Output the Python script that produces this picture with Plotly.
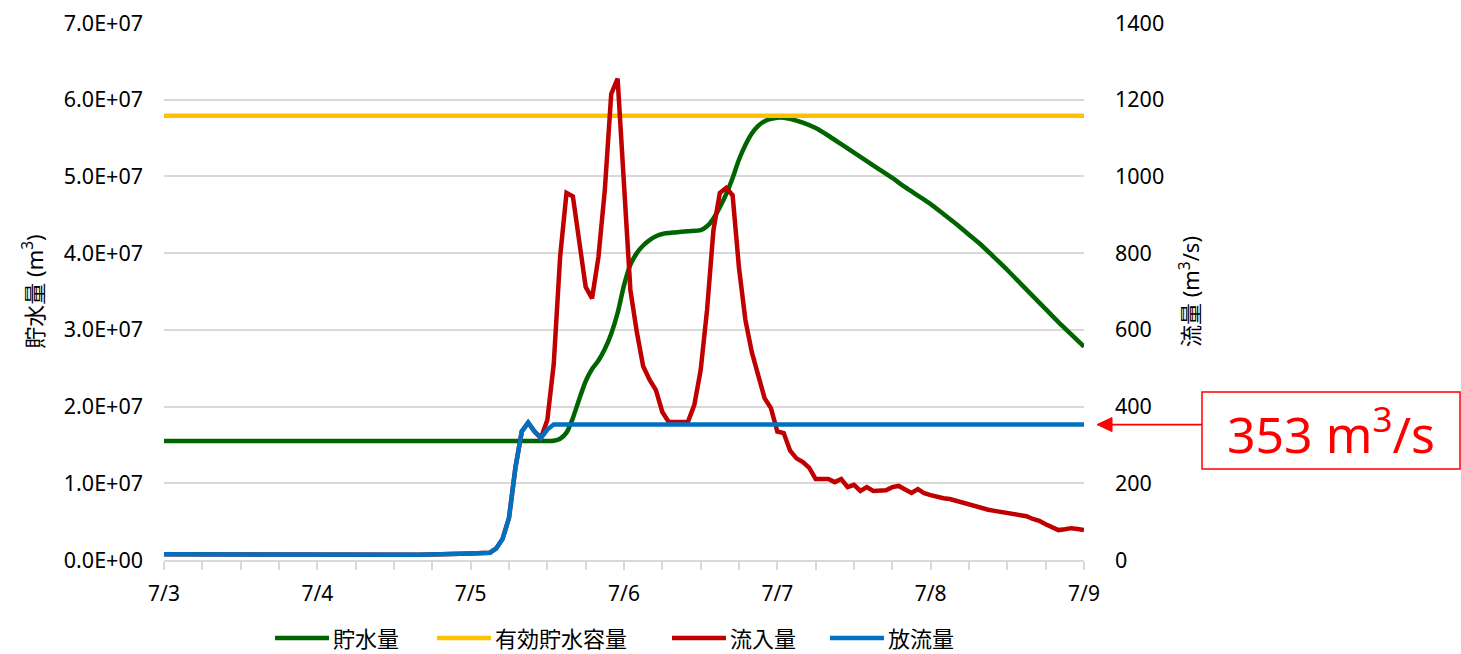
import pandas as pd
import plotly.graph_objects as go

# ---- data (hours counted from 2018-07-03 00:00) ----
start = pd.Timestamp("2018-07-03 00:00")

storage_hours = [0, 60, 61, 62, 63, 64, 65, 66, 67, 68, 69, 70, 71, 72, 73, 74, 75, 76, 77, 78,
                 80, 82, 84, 85, 86, 87, 88, 89, 90, 91, 92, 93, 94, 95, 96, 97, 98,
                 100, 102, 104, 106, 108, 110, 112, 114, 116, 118, 120, 122, 124, 126, 128,
                 130, 132, 134, 136, 138, 140, 142, 144]
storage = [15.5e6, 15.5e6, 15.55e6, 15.8e6, 16.6e6, 18.5e6, 21.0e6, 23.3e6, 24.9e6, 26.0e6,
           27.5e6, 29.5e6, 32.2e6, 35.8e6, 38.5e6, 40.0e6, 41.0e6, 41.7e6, 42.2e6, 42.5e6,
           42.7e6, 42.85e6, 43.0e6, 43.5e6, 44.5e6, 46.0e6, 47.7e6, 49.8e6, 52.2e6, 54.1e6,
           55.6e6, 56.6e6, 57.2e6, 57.5e6, 57.65e6, 57.65e6, 57.5e6,
           57.0e6, 56.3e6, 55.3e6, 54.2e6, 53.1e6, 52.0e6, 50.9e6, 49.8e6, 48.6e6, 47.5e6,
           46.4e6, 45.1e6, 43.8e6, 42.4e6, 41.0e6, 39.4e6, 37.8e6, 36.1e6, 34.4e6, 32.7e6,
           31.0e6, 29.4e6, 27.8e6]

capacity_hours = [0, 144]
capacity = [57.9e6, 57.9e6]

inflow_hours = [0, 9, 12, 36, 40, 48, 50, 51, 52, 53, 54, 55, 56, 57, 58] + list(range(59, 145))
inflow = [15, 15, 13, 13, 14, 17, 18, 19, 30, 55, 110, 240, 335, 358, 335,
          318, 365, 510, 790, 957, 948, 835, 712, 682, 790,
          965, 1215, 1255, 964, 704, 595, 505, 470, 443, 386,
          360, 360, 360, 360, 404, 495, 652, 860, 957, 970,
          951, 761, 626, 542, 482, 422, 396, 335, 331, 285,
          265, 255, 240, 211, 211, 211, 203, 211, 190, 196,
          180, 190, 180, 181, 182, 190, 193, 184, 175, 185,
          174, 169, 164, 161, 159, 154, 149, 145, 141, 136,
          131, 128, 125, 123, 118, 115, 114, 107, 102, 93,
          84, 78, 80, 83, 81, 78]

outflow_hours = [0, 9, 12, 36, 40, 48, 50, 51, 52, 53, 54, 55, 56, 57, 58, 59, 60, 61, 144]
outflow = [15, 15, 13, 13, 14, 17, 18, 19, 30, 55, 110, 240, 335, 358, 335, 318, 340, 353, 353]

release_label = 353

day_ticks = ["2018-07-03", "2018-07-04", "2018-07-05", "2018-07-06",
             "2018-07-07", "2018-07-08", "2018-07-09"]
day_labels = ["7/3", "7/4", "7/5", "7/6", "7/7", "7/8", "7/9"]
vol_ticks = [0, 1e7, 2e7, 3e7, 4e7, 5e7, 6e7, 7e7]
vol_labels = ["0.0E+00", "1.0E+07", "2.0E+07", "3.0E+07", "4.0E+07",
              "5.0E+07", "6.0E+07", "7.0E+07"]
flow_ticks = [0, 200, 400, 600, 800, 1000, 1200, 1400]

series_names = ["貯水量", "有効貯水容量", "流入量", "放流量"]
series_colors = ["#006400", "#FFC000", "#C00000", "#0070C0"]


def to_time(hours):
    return [start + pd.Timedelta(hours=h) for h in hours]


FONT = "Noto Sans, Noto Sans CJK JP, sans-serif"
GRID = "#d9d9d9"
W, H = 1461, 654
L, R, T, B = 164, 377, 23, 94
PW, PH = W - L - R, H - T - B
FLOW_PER_PX = 1400 / PH


def px_x(px):
    return (px - L) / PW


def px_y(py):
    return (H - B - py) / PH


fig = go.Figure()
fig.add_trace(go.Scatter(x=to_time(storage_hours), y=storage, name=series_names[0],
                         mode="lines", yaxis="y",
                         line=dict(color=series_colors[0], width=4.5, shape="spline", smoothing=0.6)))
fig.add_trace(go.Scatter(x=to_time(capacity_hours), y=capacity, name=series_names[1],
                         mode="lines", yaxis="y", line=dict(color=series_colors[1], width=4.5)))
fig.add_trace(go.Scatter(x=to_time(inflow_hours), y=inflow, name=series_names[2],
                         mode="lines", yaxis="y2", line=dict(color=series_colors[2], width=4.5)))
fig.add_trace(go.Scatter(x=to_time(outflow_hours), y=outflow, name=series_names[3],
                         mode="lines", yaxis="y2", line=dict(color=series_colors[3], width=4.5)))

fig.update_layout(
    width=W, height=H,
    margin=dict(l=L, r=R, t=T, b=B),
    paper_bgcolor="white", plot_bgcolor="white",
    font=dict(family=FONT, size=21, color="#000000"),
    showlegend=False,
    xaxis=dict(type="date", range=["2018-07-03", "2018-07-09"],
               tickvals=day_ticks, ticktext=day_labels, automargin=False,
               showgrid=False, zeroline=False,
               showline=True, linecolor=GRID, linewidth=2,
               ticks="outside", ticklen=8, tickcolor=GRID, tickwidth=2,
               minor=dict(dtick=6 * 3600 * 1000, ticks="outside", ticklen=8,
                          tickcolor=GRID, tickwidth=2, showgrid=False),
               tickfont=dict(size=21), ticklabelstandoff=6),
    yaxis=dict(range=[0, 7e7], tickvals=vol_ticks, ticktext=vol_labels, automargin=False,
               showgrid=True, gridcolor=GRID, gridwidth=2, zeroline=False,
               showline=False, ticks="", tickfont=dict(size=21.5), ticklabelstandoff=20,
               title=dict(text="貯水量 (m<sup>3</sup>)", font=dict(size=22), standoff=14)),
    yaxis2=dict(range=[0, 1400], tickvals=flow_ticks, overlaying="y", side="right",
                automargin=False, showgrid=False, zeroline=False, showline=False, ticks="",
                tickfont=dict(size=21.5), ticklabelstandoff=30,
                title=dict(text="流量 (m<sup>3</sup>/s)", font=dict(size=22), standoff=20)),
)

# legend row drawn beneath the plot: line sample followed by the series name
legend_y = px_y(638)
legend_line_starts = [275, 437, 672, 830]
legend_text_widths = [72, 140, 72, 72]
for name, color, x0, tw in zip(series_names, series_colors, legend_line_starts, legend_text_widths):
    fig.add_shape(type="line", xref="paper", yref="paper",
                  x0=px_x(x0), x1=px_x(x0 + 54), y0=legend_y, y1=legend_y,
                  line=dict(color=color, width=4.5))
    fig.add_annotation(xref="paper", yref="paper", x=px_x(x0 + 57), y=legend_y,
                       xanchor="left", yanchor="middle", showarrow=False,
                       width=tw, align="left", borderpad=0,
                       text=name, font=dict(size=22, family=FONT))

# callout box for the steady release rate
fig.add_shape(type="rect", xref="paper", yref="paper",
              x0=px_x(1202), x1=px_x(1460), y0=px_y(469), y1=px_y(392),
              line=dict(color="#FF0000", width=1.5), fillcolor="white")
fig.add_annotation(xref="paper", yref="paper", x=px_x(1331), y=px_y(431),
                   xanchor="center", yanchor="middle", showarrow=False,
                   width=240, align="center",
                   text=f"{release_label} m<sup>3</sup>/s",
                   font=dict(size=50, color="#FF0000", family=FONT))

# arrow from the box to the release line
head_len, head_half = 15, 7
fig.add_shape(type="line", xref="paper", yref="y2",
              x0=px_x(1202), x1=px_x(1097 + head_len - 2),
              y0=release_label, y1=release_label,
              line=dict(color="#FF0000", width=1.6))
tip_x = px_x(1097)
base_x = px_x(1097 + head_len)
dy = head_half * FLOW_PER_PX
fig.add_shape(type="path", xref="paper", yref="y2",
              path=(f"M {tip_x},{release_label} L {base_x},{release_label + dy} "
                    f"L {base_x},{release_label - dy} Z"),
              fillcolor="#FF0000", line=dict(color="#FF0000", width=1))

fig.write_html("out.html")
